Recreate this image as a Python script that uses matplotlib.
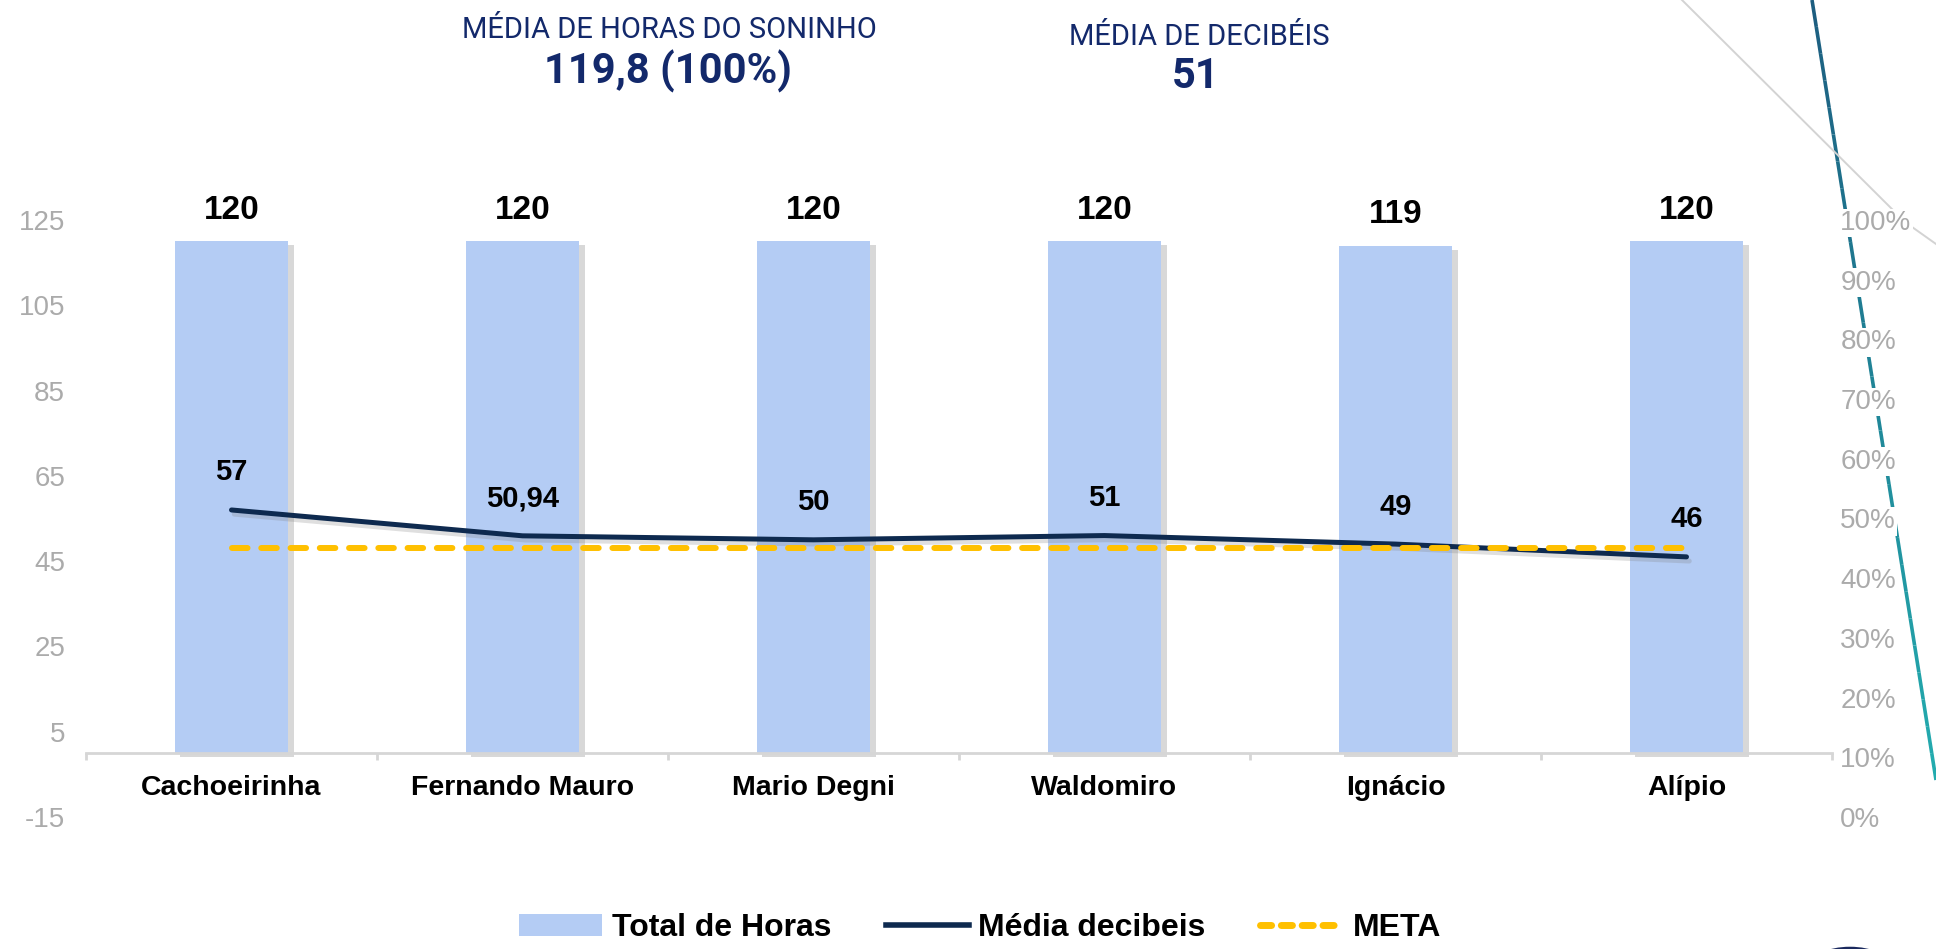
import matplotlib
matplotlib.use("Agg")
import matplotlib.pyplot as plt
import matplotlib.patheffects as pe
from matplotlib.lines import Line2D
from matplotlib.patches import Patch, Circle
from matplotlib.collections import LineCollection
from matplotlib.ticker import FixedLocator, PercentFormatter
import numpy as np

plt.rcParams['font.family'] = ['Liberation Sans', 'DejaVu Sans']
plt.rcParams['axes.unicode_minus'] = False

# ---------------- data ----------------
categorias = ["Cachoeirinha", "Fernando Mauro", "Mario Degni", "Waldomiro", "Ignácio", "Alípio"]
total_horas = [120, 120, 120, 120, 119, 120]
media_decibeis = [57, 50.94, 50, 51, 49, 46]
meta = [48, 48, 48, 48, 48, 48]
y_ticks_left = [-15, 5, 25, 45, 65, 85, 105, 125]
y_ticks_right = [0, 0.1, 0.2, 0.3, 0.4, 0.5, 0.6, 0.7, 0.8, 0.9, 1.0]
titulo1 = "MÉDIA DE HORAS DO SONINHO"
valor1 = "119,8 (100%)"
titulo2 = "MÉDIA DE DECIBÉIS"
valor2 = "51"
legendas = ["Total de Horas", "Média decibeis", "META"]

# ---------------- style ----------------
W, H = 1936, 949
BAR_C = '#B4CCF4'
LINE_C = '#0E2A4F'
META_C = '#FFC000'
NAVY = '#13296B'
TICK_C = '#ABABAB'
AXIS_C = '#D6D6D6'

fig = plt.figure(figsize=(W / 100, H / 100), dpi=100)
fig.patch.set_facecolor('white')

def fx(px):
    return px / W

def fy(py):
    return 1 - py / H

# decorative lines (top right)
t = np.linspace(0, 1, 30)
xs = fx(1812 + (1936 - 1812) * t)
ys = fy(0 + 780 * t)
pts = np.column_stack([xs, ys]).reshape(-1, 1, 2)
segs = np.concatenate([pts[:-1], pts[1:]], axis=1)
c0 = np.array(matplotlib.colors.to_rgb('#1D5E80'))
c1 = np.array(matplotlib.colors.to_rgb('#23AEB0'))
cols = [tuple(c0 + (c1 - c0) * v) for v in t[:-1]]
lc = LineCollection(segs, colors=cols, linewidths=2.6, transform=fig.transFigure, zorder=-2)
fig.add_artist(lc)
fig.add_artist(Line2D([fx(1682), fx(1905), fx(1936)], [fy(0), fy(222), fy(244)],
                      transform=fig.transFigure, color='#D3D3D3', lw=1.4, zorder=-2))
fig.add_artist(Circle((fx(1850), fy(968)), 40 / W, transform=fig.transFigure,
                      fill=False, edgecolor='#1B2A5E', lw=2.4, zorder=-2))

ax = fig.add_axes([fx(86), fy(817), fx(1832 - 86), (817 - 220) / H])
ax.set_facecolor('none')
x = np.arange(len(categorias))

ax.bar(x, total_horas, width=0.39, color=BAR_C, zorder=2,
       path_effects=[pe.SimplePatchShadow(offset=(4, -3), shadow_rgbFace='#7F7F7F', alpha=0.3),
                     pe.Normal()])
ax.plot(x, media_decibeis, color=LINE_C, lw=3.6, solid_capstyle='round', zorder=4,
        path_effects=[pe.SimpleLineShadow(offset=(2, -3), shadow_color='#808080', alpha=0.25),
                      pe.Normal()])
ax.plot(x, meta, color=META_C, lw=4.3, dashes=(2.6, 2.3), dash_capstyle='round', zorder=5)

for xi, v in zip(x, total_horas):
    ax.annotate(f"{v:g}".replace('.', ','), (xi, v), xytext=(0, 22.5), textcoords='offset points',
                ha='center', va='center', fontsize=24, fontweight='bold', color='black', zorder=6)
for xi, v in zip(x, media_decibeis):
    ax.annotate(f"{v:g}".replace('.', ','), (xi, v), xytext=(0, 27), textcoords='offset points',
                ha='center', va='center', fontsize=21, fontweight='bold', color='black', zorder=6)

ax.set_xlim(-0.5, len(categorias) - 0.5)
ax.set_ylim(y_ticks_left[0], y_ticks_left[-1])
ax.set_yticks(y_ticks_left)
ax.tick_params(axis='y', length=0, pad=15, labelsize=20, labelcolor=TICK_C)
for s in ['top', 'right', 'left']:
    ax.spines[s].set_visible(False)
ax.spines['bottom'].set_position(('data', 0))
ax.spines['bottom'].set_color(AXIS_C)
ax.spines['bottom'].set_linewidth(2)
ax.spines['bottom'].set_zorder(3)
ax.xaxis.set_major_locator(FixedLocator(np.arange(-0.5, len(categorias), 1.0)))
ax.xaxis.set_minor_locator(FixedLocator(x))
ax.set_xticklabels([], minor=False)
ax.set_xticklabels(categorias, minor=True)
ax.tick_params(axis='x', which='major', length=5, width=2, color=AXIS_C, direction='out')
ax.tick_params(axis='x', which='minor', length=0, pad=16, labelsize=20.5)
for lab in ax.get_xticklabels(minor=True):
    lab.set_fontweight('bold')

ax2 = ax.twinx()
ax2.set_ylim(0, 1)
ax2.set_yticks(y_ticks_right)
ax2.yaxis.set_major_formatter(PercentFormatter(1.0, decimals=0))
ax2.tick_params(axis='y', length=0, pad=6, labelsize=20, labelcolor=TICK_C)
for s in ax2.spines.values():
    s.set_visible(False)
for lab in ax2.get_yticklabels():
    lab.set_bbox(dict(facecolor='white', edgecolor='none', pad=1))

# titles
fig.text(fx(669), fy(30), titulo1, ha='center', va='center', fontsize=21, color=NAVY, family='Roboto')
fig.text(fx(668), fy(71), valor1, ha='center', va='center', fontsize=30, fontweight='bold', color=NAVY, family='Roboto')
fig.text(fx(1199), fy(37), titulo2, ha='center', va='center', fontsize=21, color=NAVY, family='Roboto')
fig.text(fx(1196), fy(77), valor2, ha='center', va='center', fontsize=30, fontweight='bold', color=NAVY, family='Roboto')

handles = [Patch(facecolor=BAR_C, edgecolor='none'),
           Line2D([], [], color=LINE_C, lw=4),
           Line2D([], [], color=META_C, lw=5, dashes=(1.6, 1.4), dash_capstyle='round')]
fig.legend(handles, legendas, loc='center', bbox_to_anchor=(fx(980), fy(928)), ncol=3,
           frameon=False, prop={'family': 'Liberation Sans', 'weight': 'bold', 'size': 23},
           handlelength=2.6, handletextpad=0.3, columnspacing=1.7, borderpad=0)

fig.savefig('out.png', dpi=100, facecolor='white')
